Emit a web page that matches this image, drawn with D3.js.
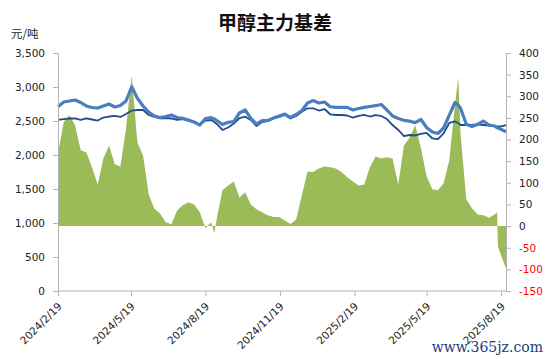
<!DOCTYPE html>
<html><head><meta charset="utf-8">
<script src="https://cdn.jsdelivr.net/npm/d3@7"></script>
<style>
html,body{margin:0;padding:0;background:#fff;}
svg{display:block;}
</style></head>
<body>
<svg id="c" width="550" height="359"></svg>
<script>
// ---- data ----
const dates = [
"2024-02-19","2024-02-26","2024-03-04","2024-03-11","2024-03-18","2024-03-25","2024-04-01","2024-04-08","2024-04-15","2024-04-22",
"2024-04-29","2024-05-06","2024-05-13","2024-05-20","2024-05-27","2024-06-03","2024-06-10","2024-06-17","2024-06-24","2024-07-01",
"2024-07-08","2024-07-15","2024-07-22","2024-07-29","2024-08-05","2024-08-12","2024-08-19","2024-08-26","2024-08-30","2024-09-02",
"2024-09-09","2024-09-16","2024-09-23","2024-09-30","2024-10-07","2024-10-14","2024-10-21","2024-10-28","2024-11-04","2024-11-11",
"2024-11-18","2024-11-25","2024-12-02","2024-12-09","2024-12-16","2024-12-23","2024-12-30","2025-01-06","2025-01-13","2025-01-20",
"2025-01-27","2025-02-03","2025-02-10","2025-02-17","2025-02-24","2025-03-03","2025-03-10","2025-03-17","2025-03-24","2025-03-31",
"2025-04-07","2025-04-14","2025-04-21","2025-04-28","2025-05-05","2025-05-12","2025-05-19","2025-05-26","2025-06-02","2025-06-09",
"2025-06-16","2025-06-23","2025-06-27","2025-06-30","2025-07-07","2025-07-14","2025-07-21","2025-07-28","2025-08-04","2025-08-11",
"2025-08-14","2025-08-15","2025-08-18","2025-08-25"
];
// spot price (left axis, 元/吨)
const spot = [
2710,2779,2794,2809,2772,2721,2699,2691,2721,2750,
2706,2728,2794,3004,2834,2721,2632,2574,2551,2566,
2588,2551,2540,2515,2485,2441,2537,2549,2530,2507,
2449,2481,2493,2618,2662,2537,2456,2507,2507,2544,
2574,2603,2551,2596,2654,2765,2801,2765,2779,2710,
2701,2701,2701,2662,2684,2701,2713,2725,2743,2662,
2574,2537,2510,2497,2476,2522,2404,2338,2316,2397,
2588,2772,2735,2684,2451,2419,2449,2500,2441,2426,
2404,2397,2382,2343
];
// futures main contract (left axis, 元/吨)
const futures = [
2515,2529,2537,2537,2515,2537,2522,2507,2551,2566,
2574,2559,2603,2654,2662,2662,2588,2559,2540,2544,
2537,2515,2529,2500,2478,2441,2507,2515,2485,2456,
2368,2404,2463,2544,2563,2515,2426,2485,2500,2537,
2559,2588,2537,2574,2637,2687,2687,2654,2676,2599,
2588,2588,2581,2549,2574,2591,2566,2588,2574,2529,
2441,2368,2279,2294,2287,2309,2324,2246,2235,2319,
2471,2493,2470,2441,2441,2441,2449,2441,2434,2426,
2419,2419,2419,2441
];
// basis (right axis)
const basis = [
168,240,256,233,175,170,136,96,156,186,
143,138,226,348,193,163,73,40,29,9,
4,36,48,55,50,32,-5,9,-16,18,
83,94,103,66,78,50,39,32,25,21,
21,13,5,15,71,126,125,133,138,136,
133,125,113,103,94,96,136,161,156,159,
156,96,186,204,233,180,115,85,83,99,
152,279,344,210,62,41,27,25,19,27,
32,-47,-63,-98
];
const leftTicks = [0,500,1000,1500,2000,2500,3000,3500];
const rightTicks = [-150,-100,-50,0,50,100,150,200,250,300,350,400];
const xTickLabels = ["2024/2/19","2024/5/19","2024/8/19","2024/11/19","2025/2/19","2025/5/19","2025/8/19"];
const titleText = "甲醇主力基差";
const unitText = "元/吨";
const watermark = "www.365jz.com";

// ---- chart ----
const svg = d3.select("#c");
const parse = d3.timeParse("%Y-%m-%d");
const parseTick = d3.timeParse("%Y/%m/%d");
const data = dates.map((d,i)=>({date:parse(d), spot:spot[i], fut:futures[i], basis:basis[i]}));

const L = 58, R = 506, T = 53, B = 291;
const x = d3.scaleTime().domain([parse("2024-02-19"), parse("2025-08-25")]).range([L,R]);
const yL = d3.scaleLinear().domain([0,3500]).range([B,T]);
const yR = d3.scaleLinear().domain([-150,400]).range([B,T]);

const font = "'DejaVu Sans', Verdana, sans-serif";
const axisColor = "#b3b3b3";

// area
svg.append("path").datum(data)
  .attr("fill","#9BBB59")
  .attr("d", d3.area().x(d=>x(d.date)).y0(yR(0)).y1(d=>yR(d.basis)));

// lines
svg.append("path").datum(data)
  .attr("fill","none").attr("stroke","#1F4E8A").attr("stroke-width",1.8).attr("stroke-linejoin","round")
  .attr("d", d3.line().x(d=>x(d.date)).y(d=>yL(d.fut)));
svg.append("path").datum(data)
  .attr("fill","none").attr("stroke","#4A7EC0").attr("stroke-width",3.2).attr("stroke-linejoin","round")
  .attr("d", d3.line().x(d=>x(d.date)).y(d=>yL(d.spot)));

// left axis
const gl = svg.append("g").attr("transform",`translate(${L},0)`)
  .call(d3.axisLeft(yL).tickValues(leftTicks).tickSize(5).tickPadding(8).tickFormat(d3.format(",")));
// right axis
const gr = svg.append("g").attr("transform",`translate(${R},0)`)
  .call(d3.axisRight(yR).tickValues(rightTicks).tickSize(5).tickPadding(8).tickFormat(d=>String(d)));
// bottom axis
const tickDates = xTickLabels.map(s=>parseTick(s));
const gb = svg.append("g").attr("transform",`translate(0,${B})`)
  .call(d3.axisBottom(x).tickValues(tickDates).tickSize(5).tickFormat((d,i)=>xTickLabels[i]));

[gl,gr,gb].forEach(g=>{
  g.select(".domain").attr("stroke",axisColor);
  g.selectAll(".tick line").attr("stroke",axisColor);
  g.selectAll("text").attr("font-family",font).attr("font-size","10.5px").attr("fill","#222");
});
gr.selectAll(".tick text").attr("fill", d=> d<0 ? "#FF0000" : "#222");
gb.select(".domain").attr("d",`M${L},0H${R}`);
gb.selectAll(".tick text")
  .attr("text-anchor","end").attr("x",0).attr("y",0).attr("dy",0)
  .attr("transform","translate(4,16) rotate(-45)");

// title
svg.append("text").attr("x",275).attr("y",30).attr("text-anchor","middle")
  .attr("font-family","'Noto Sans CJK SC', sans-serif").attr("font-weight","bold").attr("font-size","19px")
  .attr("fill","#111").text(titleText);
svg.append("text").attr("x",11).attr("y",38)
  .attr("font-family","'Noto Sans CJK SC', sans-serif").attr("font-size","11.5px")
  .attr("fill","#222").text(unitText);
// watermark
svg.append("text").attr("x",543).attr("y",352).attr("text-anchor","end")
  .attr("font-family","'DejaVu Serif', serif").attr("font-size","14px")
  .attr("fill","#1B3C7A").text(watermark);
</script>
</body></html>
